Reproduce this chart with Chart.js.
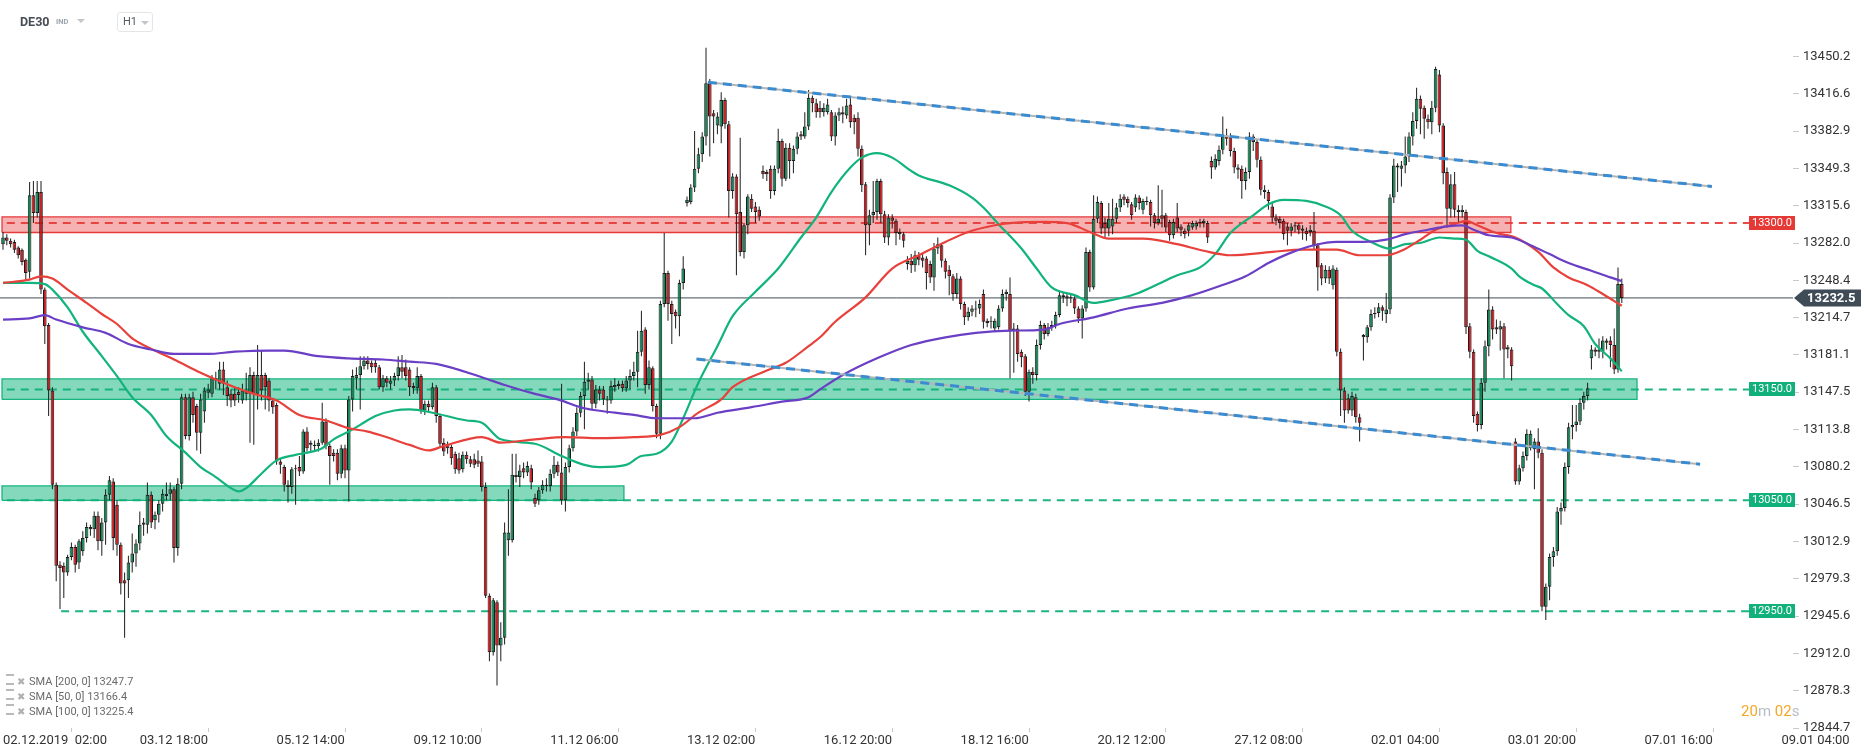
<!DOCTYPE html>
<html><head><meta charset="utf-8">
<script src="https://cdn.jsdelivr.net/npm/chart.js@4.4.1/dist/chart.umd.min.js"></script>
<style>
html,body{margin:0;padding:0;background:#fff;}
#wrap{position:relative;width:1866px;height:756px;overflow:hidden;font-family:Roboto,'Liberation Sans',sans-serif;}
canvas{position:absolute;left:0;top:0;}
.abs{position:absolute;white-space:nowrap;}
.tri{position:absolute;width:0;height:0;border-left:4px solid transparent;border-right:4px solid transparent;border-top:4px solid #c2c6cb;}
.leg{position:absolute;left:6px;font-size:11px;color:#6b6b6b;height:14px;line-height:14px;}
.leg .ic1{display:inline-block;width:8px;height:7px;border-top:2px solid #b9b9b9;border-bottom:2px solid #b9b9b9;position:relative;top:0px;margin-right:3px;}
.leg .ic2{display:inline-block;color:#b0b0b0;font-size:10px;margin-right:4px;}
</style></head><body>
<div id="wrap">
<canvas id="c" width="1866" height="756"></canvas>
<div class="abs" style="left:20px;top:14px;font-weight:bold;font-size:12.5px;color:#474d54;">DE30</div>
<div class="abs" style="left:56px;top:17px;font-weight:bold;font-size:7.5px;color:#9ba4ad;">IND</div>
<div class="tri" style="left:77px;top:19px;"></div>
<div class="abs" style="left:117px;top:12px;width:34px;height:18px;border:1px solid #e3e5e8;border-radius:3px;">
  <span class="abs" style="left:5px;top:2px;font-size:11px;color:#555b62;">H1</span>
  <div class="tri" style="left:23px;top:8px;"></div>
</div>
<div class="leg" style="top:674px;"><span class="ic1"></span><span class="ic2">✖</span>SMA [200, 0] 13247.7</div>
<div class="leg" style="top:689px;"><span class="ic1"></span><span class="ic2">✖</span>SMA [50, 0] 13166.4</div>
<div class="leg" style="top:704px;"><span class="ic1"></span><span class="ic2">✖</span>SMA [100, 0] 13225.4</div>
<div class="abs" style="left:1741px;top:702px;font-size:15px;"><span style="color:#f5a623">20</span><span style="color:#b7bec6">m </span><span style="color:#f5a623">02</span><span style="color:#b7bec6">s</span></div>
</div>
<script>
// ---------- DATA ----------
// hourly candles DE30 H1: [open, high, low, close]
const ohlc = [
[13281,13292,13276,13287],[13287,13290,13280,13284],[13284,13286,13278,13281],[13283,13285,13273,13276],[13278,13279,13268,13271],
[13276,13277,13262,13265],[13267,13268,13248,13255],[13256,13337,13250,13325],[13325,13338,13300,13309],[13309,13338,13305,13328],
[13328,13338,13236,13240],[13240,13242,13191,13207],[13208,13210,13126,13149],[13149,13152,13060,13064],[13064,13066,12977,12991],
[12992,12995,12952,12989],[12991,12994,12962,12985],[12985,13001,12982,12999],[12999,13012,12996,13008],[13008,13010,12985,12992],
[12994,13015,12988,13013],[13004,13022,13000,13016],[13016,13030,13012,13026],[13026,13028,13018,13024],[13024,13040,13016,13036],
[13036,13040,13005,13013],[13013,13034,13000,13030],[13030,13060,13010,13055],[13055,13072,13050,13068],[13067,13070,13005,13016],
[13046,13050,13000,13010],[13010,13012,12965,12975],[12978,12985,12926,12975],[12978,13000,12962,12994],[12994,13020,12985,13002],
[13002,13015,12990,13011],[13011,13040,13005,13028],[13028,13034,13018,13030],[13028,13066,13020,13055],[13055,13058,13025,13030],
[13032,13040,13024,13037],[13037,13050,13030,13047],[13047,13060,13040,13056],[13054,13066,13050,13056],[13056,13066,13050,13060],
[13060,13062,12994,13007],[13007,13070,13000,13065],[13065,13146,13060,13143],[13143,13146,13105,13108],[13108,13146,13104,13143],
[13143,13148,13120,13127],[13135,13137,13095,13111],[13111,13146,13092,13141],[13130,13152,13120,13149],[13147,13155,13142,13150],
[13146,13163,13143,13160],[13160,13166,13150,13158],[13155,13175,13150,13168],[13168,13175,13145,13155],[13152,13158,13135,13144],
[13146,13150,13134,13140],[13146,13152,13135,13140],[13148,13152,13138,13145],[13140,13155,13137,13149],[13149,13165,13140,13146],
[13146,13170,13102,13163],[13163,13166,13100,13146],[13146,13190,13132,13163],[13163,13185,13140,13149],[13163,13165,13132,13152],
[13158,13160,13130,13140],[13140,13142,13128,13134],[13136,13138,13082,13085],[13085,13088,13074,13082],[13080,13082,13058,13064],
[13064,13068,13048,13062],[13062,13080,13056,13078],[13078,13082,13046,13079],[13080,13090,13072,13076],[13076,13114,13074,13112],
[13112,13116,13094,13097],[13102,13104,13094,13100],[13100,13104,13094,13099],[13099,13105,13094,13102],[13102,13138,13100,13121],
[13121,13124,13096,13099],[13099,13101,13064,13090],[13093,13096,13085,13090],[13093,13096,13068,13074],[13074,13100,13070,13097],
[13097,13100,13070,13077],[13077,13144,13049,13141],[13141,13168,13130,13162],[13160,13170,13150,13163],[13163,13180,13132,13171],
[13171,13180,13168,13176],[13176,13180,13168,13173],[13174,13176,13165,13170],[13174,13177,13165,13170],[13170,13172,13150,13152],
[13152,13163,13148,13160],[13160,13162,13152,13156],[13155,13162,13150,13158],[13158,13165,13153,13162],[13162,13180,13158,13170],
[13170,13181,13160,13166],
[13170,13177,13158,13162],[13168,13170,13144,13152],[13153,13156,13146,13151],[13151,13170,13146,13162],[13162,13164,13128,13131],
[13131,13140,13127,13137],[13137,13140,13130,13134],[13134,13156,13132,13152],[13152,13154,13120,13126],[13126,13128,13098,13101],
[13102,13106,13090,13094],[13101,13103,13092,13097],[13098,13100,13082,13088],[13092,13094,13074,13078],[13088,13093,13074,13077],
[13078,13094,13075,13091],[13091,13094,13083,13087],[13087,13090,13080,13083],[13087,13092,13079,13082],[13086,13095,13080,13083],
[13085,13090,13058,13062],[13062,13066,12962,12964],[12964,12966,12905,12913],[12913,12962,12910,12960],[12958,12960,12883,12919],
[12919,12940,12905,12926],[12926,13030,12920,13021],[13014,13060,13000,13021],[13014,13092,13012,13073],[13073,13092,13066,13071],
[13071,13082,13062,13077],[13079,13084,13070,13075],[13075,13085,13072,13081],[13079,13082,13060,13066],[13052,13056,13044,13047],
[13050,13062,13046,13059],[13059,13068,13056,13064],[13064,13070,13058,13063],[13063,13078,13058,13074],[13074,13090,13070,13082],
[13082,13085,13072,13075],[13075,13155,13046,13050],[13050,13084,13040,13080],[13080,13100,13075,13097],[13097,13116,13094,13112],
[13112,13134,13108,13129],[13129,13148,13125,13144],[13144,13175,13114,13157],[13157,13165,13150,13159],[13159,13162,13132,13137],
[13137,13154,13133,13150],[13150,13153,13140,13146],[13150,13153,13136,13141],[13141,13144,13128,13140],[13140,13158,13137,13153],
[13152,13160,13148,13154],[13153,13158,13150,13155],[13155,13158,13148,13151],[13151,13162,13148,13158],[13158,13168,13150,13162],
[13162,13175,13158,13166],[13166,13203,13152,13184],[13184,13221,13180,13203],[13204,13206,13146,13154],[13154,13176,13150,13170],
[13169,13171,13130,13135],[13135,13137,13106,13110],[13110,13230,13105,13227],[13227,13291,13224,13255],[13255,13257,13212,13227],
[13227,13230,13191,13218],[13220,13222,13205,13216],[13216,13249,13198,13246],[13246,13270,13240,13259],[13318,13324,13315,13321],
[13319,13335,13317,13332],[13332,13383,13328,13349],[13349,13368,13345,13362],[13362,13382,13355,13378],[13378,13458,13370,13426],
[13426,13430,13360,13396],[13399,13402,13372,13396],[13388,13400,13380,13396],[13387,13418,13372,13411],[13411,13413,13385,13389],
[13389,13392,13305,13329],[13329,13345,13322,13342],[13342,13344,13253,13308],[13310,13377,13270,13274],[13274,13300,13268,13298],
[13298,13326,13290,13324],[13322,13326,13310,13313],[13315,13319,13300,13310],[13312,13315,13302,13306],[13347,13352,13340,13344],
[13346,13348,13338,13344],[13349,13352,13322,13329],[13329,13352,13325,13349],[13349,13385,13345,13374],[13374,13376,13333,13340],
[13340,13372,13338,13368],[13368,13372,13340,13356],[13356,13370,13345,13367],[13367,13382,13362,13378],[13380,13383,13375,13378],
[13378,13400,13376,13387],[13387,13420,13384,13413],[13413,13415,13400,13408],[13408,13412,13395,13400],
[13404,13410,13395,13400],[13400,13408,13396,13404],[13400,13412,13398,13407],[13400,13402,13374,13378],[13378,13400,13370,13397],
[13397,13404,13392,13400],[13400,13405,13390,13398],[13397,13412,13394,13406],[13407,13414,13386,13391],[13395,13398,13380,13391],
[13395,13400,13360,13367],[13367,13370,13328,13334],[13335,13337,13271,13298],[13298,13312,13280,13307],[13307,13338,13300,13310],
[13310,13340,13303,13338],[13338,13340,13300,13308],[13308,13311,13282,13287],[13287,13308,13280,13305],[13305,13308,13295,13302],
[13302,13304,13280,13291],[13292,13295,13285,13290],[13290,13292,13278,13284],[13263,13270,13258,13266],[13266,13272,13255,13262],
[13262,13275,13256,13271],[13271,13274,13262,13267],[13269,13272,13260,13266],[13268,13270,13240,13255],[13263,13266,13246,13251],
[13251,13282,13239,13277],[13277,13287,13272,13281],[13280,13282,13260,13266],[13266,13268,13250,13256],[13258,13262,13235,13252],
[13252,13254,13230,13236],[13236,13255,13232,13250],[13250,13252,13222,13227],[13227,13229,13208,13215],[13215,13224,13212,13220],
[13220,13226,13216,13223],[13222,13230,13215,13223],[13223,13231,13218,13227],[13236,13240,13205,13211],[13212,13214,13206,13210],
[13212,13216,13205,13211],[13205,13214,13202,13212],[13206,13226,13204,13223],[13223,13240,13220,13236],[13236,13240,13230,13238],
[13236,13251,13160,13203],[13203,13210,13165,13205],[13205,13208,13175,13182],[13184,13186,13170,13179],[13180,13182,13144,13148],
[13148,13168,13139,13166],[13166,13170,13155,13163],[13163,13195,13158,13190],[13190,13212,13186,13208],[13208,13210,13195,13200],
[13200,13210,13198,13206],[13206,13212,13203,13208],[13208,13220,13205,13217],[13217,13238,13215,13235],[13235,13237,13228,13233],
[13234,13236,13225,13232],[13232,13236,13228,13233],[13232,13234,13218,13223],[13223,13225,13210,13214],[13214,13226,13196,13223],
[13223,13278,13220,13274],[13274,13276,13238,13242],[13242,13325,13240,13304],[13304,13324,13300,13319],[13318,13320,13290,13295],
[13300,13305,13287,13295],[13295,13318,13288,13304],[13297,13322,13290,13304],[13304,13318,13300,13314],[13314,13326,13310,13322],
[13324,13326,13316,13321],[13322,13324,13314,13318],[13317,13319,13303,13307],[13314,13326,13310,13323],[13323,13325,13312,13318],
[13312,13322,13308,13320],[13319,13324,13316,13320],[13319,13321,13297,13307],[13307,13309,13295,13300],[13300,13334,13298,13304],
[13307,13330,13296,13304],[13307,13309,13292,13296],[13301,13303,13284,13289],[13289,13304,13286,13301],[13305,13318,13292,13295],
[13297,13299,13288,13294],[13293,13295,13286,13290],[13293,13300,13288,13298],[13296,13302,13294,13300],[13297,13302,13294,13300],
[13300,13304,13296,13301],[13300,13304,13296,13302],[13300,13302,13282,13287],
[13356,13360,13340,13350],[13350,13362,13348,13358],[13356,13370,13352,13366],[13366,13396,13362,13378],[13379,13385,13370,13376],
[13378,13381,13360,13365],[13365,13368,13345,13350],[13350,13353,13340,13348],[13349,13352,13322,13338],[13338,13350,13330,13346],
[13346,13382,13340,13378],[13378,13380,13365,13373],[13373,13375,13350,13357],[13357,13360,13325,13330],[13330,13334,13322,13328],
[13328,13330,13312,13320],[13315,13318,13300,13305],[13305,13308,13298,13302],[13304,13306,13295,13300],[13302,13304,13285,13290],
[13297,13300,13280,13293],[13293,13300,13288,13297],[13297,13301,13292,13298],[13298,13300,13290,13294],[13295,13298,13285,13293],
[13293,13296,13284,13290],[13292,13298,13288,13294],[13293,13310,13276,13280],[13280,13282,13239,13260],[13262,13264,13244,13250],
[13250,13262,13246,13258],[13258,13261,13245,13250],[13244,13262,13240,13259],[13258,13260,13180,13184],[13184,13187,13126,13149],
[13149,13152,13120,13131],[13142,13146,13128,13131],[13131,13148,13126,13144],[13143,13146,13120,13125],[13125,13128,13103,13120],
[13199,13200,13176,13197],[13197,13208,13192,13206],[13206,13222,13203,13218],[13218,13224,13214,13219],[13219,13228,13215,13224],
[13224,13226,13212,13221],[13218,13237,13210,13222],[13222,13326,13218,13323],[13323,13358,13318,13352],[13352,13354,13328,13350],
[13349,13356,13333,13352],[13352,13378,13345,13360],[13360,13382,13355,13378],[13378,13400,13370,13392],[13392,13422,13385,13412],
[13412,13415,13380,13403],[13404,13406,13376,13394],[13394,13398,13385,13391],[13391,13410,13380,13404],[13404,13441,13400,13439],
[13434,13438,13382,13388],[13388,13390,13335,13345],[13346,13350,13296,13313],[13313,13344,13305,13335],[13335,13346,13305,13312],
[13312,13316,13300,13310],[13310,13316,13305,13312],[13310,13312,13200,13206],[13207,13210,13178,13184],[13184,13186,13120,13126],
[13128,13130,13112,13118],[13118,13160,13114,13156],[13156,13194,13148,13189],[13189,13240,13180,13222],[13222,13225,13195,13204],
[13206,13213,13200,13204],[13204,13212,13185,13207],[13207,13210,13160,13186],[13188,13190,13178,13186],[13186,13188,13158,13171],
[13103,13106,13064,13067],[13067,13082,13064,13079],[13079,13094,13076,13090],[13090,13114,13086,13110],[13097,13113,13095,13110],
[13096,13106,13060,13103],[13103,13115,13088,13093],[13093,13096,12950,12954],[12954,12975,12942,12972],[12972,13002,12960,12999],
[12999,13008,12990,13004],[13004,13044,13000,13040],[13040,13048,13028,13043],[13043,13084,13040,13080],[13080,13120,13074,13116],
[13116,13136,13105,13118],[13118,13136,13112,13121],[13121,13142,13118,13138],[13138,13148,13132,13144],[13144,13156,13140,13151],
[13178,13190,13168,13186],[13186,13188,13180,13184],[13186,13196,13178,13184],[13184,13198,13178,13194],[13194,13196,13186,13192],
[13194,13198,13170,13190],[13190,13205,13164,13168],[13168,13260,13165,13245],[13245,13250,13228,13232.5]
];

// moving averages: [candle index, value]
const sma50 = [[0,13246],[7,13246],[11,13245],[13,13240],[17,13224],[21,13202],[26,13180],[30,13162],[34,13143],[39,13127],[43,13108],[48,13093],[52,13080],[56,13071],[60,13061],[62,13058],[64,13061],[68,13074],[72,13086],[77,13091],[80,13093],[84,13097],[87,13105],[91,13112],[94,13118],[98,13126],[103,13131],[107,13132],[113,13129],[122,13122],[126,13120],[131,13105],[140,13101],[147,13090],[153,13082],[157,13080],[164,13082],[168,13090],[172,13092],[176,13103],[179,13124],[183,13156],[188,13189],[192,13216],[198,13238],[204,13259],[210,13287],[214,13305],[218,13328],[223,13350],[226,13359],[230,13363],[234,13359],[239,13347],[241,13343],[249,13334],[255,13323],[258,13314],[262,13299],[268,13277],[272,13259],[276,13242],[282,13235],[287,13228],[291,13230],[298,13236],[304,13245],[309,13253],[315,13260],[319,13272],[323,13291],[329,13307],[333,13317],[337,13321],[343,13320],[348,13315],[352,13307],[355,13293],[360,13283],[365,13277],[369,13281],[373,13282],[378,13287],[382,13286],[385,13285],[388,13275],[391,13270],[397,13259],[399,13252],[403,13244],[405,13241],[409,13227],[412,13217],[416,13207],[419,13191],[423,13178],[426,13166.4]];
const sma100 = [[0,13246],[7,13249],[10,13252],[13,13250],[17,13240],[22,13228],[26,13218],[30,13209],[34,13196],[40,13185],[45,13177],[52,13165],[56,13159],[61,13152],[66,13146],[72,13140],[78,13127],[85,13122],[91,13115],[96,13112],[100,13108],[107,13100],[112,13095],[116,13099],[126,13107],[131,13102],[140,13105],[148,13107],[157,13106],[166,13107],[173,13109],[178,13116],[183,13129],[189,13141],[192,13152],[201,13167],[206,13174],[212,13189],[215,13197],[219,13211],[227,13233],[234,13259],[241,13271],[248,13283],[254,13292],[261,13298],[265,13300],[274,13301],[280,13300],[286,13292],[291,13286],[300,13286],[309,13281],[316,13275],[323,13271],[334,13274],[342,13276],[351,13276],[357,13271],[364,13271],[368,13275],[373,13285],[377,13294],[382,13299],[385,13302],[388,13298],[393,13291],[398,13287],[404,13274],[408,13260],[412,13251],[417,13244],[421,13236],[426,13225.4]];
const sma200 = [[0,13213],[7,13214],[11,13217],[14,13213],[21,13206],[27,13201],[33,13191],[39,13186],[45,13182],[54,13182],[61,13184],[70,13185],[74,13185],[83,13180],[91,13178],[100,13177],[107,13175],[114,13173],[126,13161],[132,13154],[140,13146],[146,13141],[153,13133],[161,13129],[166,13127],[172,13124],[182,13124],[188,13129],[197,13134],[205,13139],[212,13143],[215,13150],[221,13163],[230,13178],[239,13190],[248,13197],[256,13201],[265,13203],[274,13204],[278,13209],[287,13215],[296,13223],[305,13228],[313,13235],[320,13243],[327,13252],[333,13264],[338,13272],[345,13280],[351,13283],[358,13283],[364,13285],[369,13290],[375,13294],[380,13297],[384,13298],[387,13294],[391,13289],[397,13287],[402,13280],[407,13272],[412,13264],[418,13257],[423,13251],[426,13247.7]];

// axis ticks
const xTickIdx = [0,36,72,108,144,180,216,252,288,324,360,396,432,468];
const xTickLabels = ['02.12.2019  02:00','03.12 18:00','05.12 14:00','09.12 10:00','11.12 06:00','13.12 02:00','16.12 20:00','18.12 16:00','20.12 12:00','27.12 08:00','02.01 04:00','03.01 20:00','07.01 16:00','09.01 04:00'];
const yTicks = [13450.2,13416.6,13382.9,13349.3,13315.6,13282.0,13248.4,13214.7,13181.1,13147.5,13113.8,13080.2,13046.5,13012.9,12979.3,12945.6,12912.0,12878.3,12844.7];

// drawn levels / zones / trend lines (price levels and candle-index extents)
const levelValues = [13300, 13150, 13050, 12950];
const levelStarts = [1, 1, 1, 15.3];
const zoneLow  = [13291.5, 13141, 13050];
const zoneHigh = [13305.5, 13159.5, 13063];
const zoneEnd  = [396.8, 430, 163.4];
const trendUpper = [[185.5,13427],[449.7,13333]];
const trendLower = [[182.5,13177.4],[446.6,13082.6]];
const lastPrice = 13232.5;

// ---------- STYLE / LAYOUT ----------
const X_MIN = -0.79, X_MAX = 471.05, Y_MIN = 12844.7, Y_MAX = 13490.5;
const RED = '#e53935', GREEN = '#14b07c';
const UP = '#0c8a55', DN = '#d3141b';
const pts = a => a.map(p => ({x:p[0], y:p[1]}));

const datasets = [];
zoneLow.forEach((lo, k) => {
  const hi = zoneHigh[k], to = zoneEnd[k], from = -0.26;
  const isRed = k === 0;
  datasets.push({type:'line', data:[{x:from,y:lo},{x:to,y:lo}], borderColor:'transparent', borderWidth:0, pointRadius:0,
    fill:{value:hi}, backgroundColor: isRed ? 'rgba(232,62,62,0.40)' : 'rgba(10,180,122,0.50)', order:40});
  datasets.push({type:'line', data:[{x:from,y:lo},{x:to,y:lo},{x:to,y:hi},{x:from,y:hi},{x:from,y:lo}], borderColor: isRed ? '#e5393a' : '#16b47e',
    borderWidth:1.3, pointRadius:0, fill:false, tension:0, order:39});
});
levelValues.forEach((v, k) => {
  datasets.push({type:'line', data:[{x:levelStarts[k],y:v},{x:470.4,y:v}], borderColor: k===0 ? 'rgba(229,57,53,0.9)' : 'rgba(18,176,122,0.95)',
    borderWidth:2, borderDash:[8,6], pointRadius:0, fill:false, order:35});
});
datasets.push({type:'line', data:[{x:X_MIN,y:lastPrice},{x:X_MAX,y:lastPrice}], borderColor:'#3f4c57', borderWidth:1, pointRadius:0, fill:false, order:34});
datasets.push({type:'bar', data: ohlc.map((r,i)=>({x:i, y:[r[2], r[1]]})), backgroundColor:'#1c1c1c', borderWidth:0,
  grouped:false, barThickness:1, maxBarThickness:1, inflateAmount:0, order:31});
datasets.push({type:'bar', data: ohlc.map((r,i)=>({x:i, y:[r[0], r[3]]})), backgroundColor: ohlc.map(r => r[3] >= r[0] ? UP : DN),
  borderColor:'#1c1c1c', borderWidth:1, borderSkipped:false, grouped:false, barThickness:3.6, maxBarThickness:3.6, minBarLength:1, inflateAmount:0, order:30});
[[sma200,'#6a3fc6'],[sma100,'#e8413b'],[sma50,'#12b47c']].forEach(([d,c]) => {
  datasets.push({type:'line', data:pts(d), borderColor:c, borderWidth:2.2, pointRadius:0, fill:false, cubicInterpolationMode:'monotone', order:20});
});
[trendUpper, trendLower].forEach(t => {
  datasets.push({type:'line', data:pts(t), borderColor:'#b4b4b4', borderWidth:2, pointRadius:0, fill:false, order:10});
  datasets.push({type:'line', data:pts(t), borderColor:'#3b8bd0', borderWidth:3, borderDash:[9,6], pointRadius:0, fill:false, order:9});
});

const labelPlugin = {
  id:'levelLabels',
  afterDraw(chart){
    const {ctx, chartArea, scales:{y}} = chart;
    ctx.save();
    levelValues.forEach((v,k) => {
      const py = Math.round(y.getPixelForValue(v));
      ctx.fillStyle = k===0 ? '#e53935' : '#12b07a';
      ctx.fillRect(chartArea.right - 44, py - 7, 46, 14);
      ctx.fillStyle = '#fff'; ctx.font = '11px Roboto'; ctx.textAlign = 'center'; ctx.textBaseline = 'middle';
      ctx.fillText(v.toFixed(1), chartArea.right - 21, py + 0.5);
    });
    const py = y.getPixelForValue(lastPrice);
    const x0 = chartArea.right + 1;
    ctx.fillStyle = '#3f4c57';
    ctx.beginPath();
    ctx.moveTo(x0, py); ctx.lineTo(x0 + 10, py - 8.5); ctx.lineTo(1861, py - 8.5); ctx.lineTo(1861, py + 8.5); ctx.lineTo(x0 + 10, py + 8.5); ctx.closePath();
    ctx.fill();
    ctx.fillStyle = '#fff'; ctx.font = 'bold 13px Roboto'; ctx.textAlign = 'left'; ctx.textBaseline = 'middle';
    ctx.fillText(lastPrice.toFixed(1), x0 + 13, py + 0.5);
    ctx.restore();
  }
};

new Chart(document.getElementById('c'), {
  type:'line',
  data:{datasets},
  options:{
    responsive:false, animation:false, devicePixelRatio:1,
    layout:{padding:{top:10,left:0,right:0,bottom:0}},
    plugins:{legend:{display:false}, tooltip:{enabled:false}},
    scales:{
      x:{type:'linear', min:X_MIN, max:X_MAX, offset:false,
        grid:{drawOnChartArea:false, drawTicks:true, tickLength:4, color:'#c9c9c9'}, border:{display:false},
        afterBuildTicks:s => { s.ticks = xTickIdx.map(v => ({value:v})); },
        afterFit:s => { s.height = 28; },
        ticks:{autoSkip:false, maxRotation:0, align:'start', padding:1, color:'#333', font:{family:'Roboto', size:13},
          callback:(v,i) => xTickLabels[i]}},
      y:{type:'linear', position:'right', min:Y_MIN, max:Y_MAX,
        grid:{drawOnChartArea:false, drawTicks:true, tickLength:6, color:'#c9c9c9'}, border:{display:false},
        afterBuildTicks:s => { s.ticks = yTicks.map(v => ({value:v})); },
        afterFit:s => { s.width = 73; },
        ticks:{autoSkip:false, padding:4, color:'#333', font:{family:'Roboto', size:13},
          callback:(v) => Number(v).toFixed(1)}}
    }
  },
  plugins:[labelPlugin]
});
</script>
</body></html>
